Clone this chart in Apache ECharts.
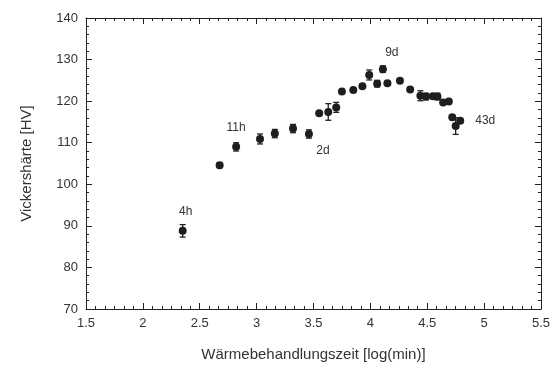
<!DOCTYPE html>
<html>
<head>
<meta charset="utf-8">
<script src="https://cdn.jsdelivr.net/npm/echarts@6/dist/echarts.min.js"></script>
<style>
  html, body { margin: 0; padding: 0; background: #fff; }
  #chart { width: 553px; height: 379px; }
</style>
</head>
<body>
<div id="chart"></div>
<script>
// Heat-treatment time (log10 of minutes) and the measured Vickers hardness
const logTime = [2.35, 2.675, 2.82, 3.03, 3.16, 3.32, 3.46, 3.55, 3.63, 3.70,
                 3.75, 3.85, 3.93, 3.99, 4.06, 4.11, 4.15, 4.26, 4.35, 4.44,
                 4.49, 4.55, 4.59, 4.64, 4.69, 4.72, 4.75, 4.79];
const hardness = [88.8, 104.6, 109.0, 110.9, 112.2, 113.4, 112.1, 117.1, 117.4, 118.5,
                  122.3, 122.7, 123.6, 126.3, 124.2, 127.7, 124.3, 124.9, 122.8, 121.3,
                  121.1, 121.2, 121.1, 119.7, 119.9, 116.1, 114.0, 115.3];
const hardnessErr = [1.5, 0.6, 1.0, 1.2, 1.0, 1.0, 1.0, 0.3, 2.0, 1.2,
                     0.3, 0.3, 0.3, 1.2, 0.8, 0.8, 0.3, 0.3, 0.3, 1.2,
                     0.8, 0.5, 0.8, 0.5, 0.5, 0.5, 2.0, 0.5];

// Ageing-time annotations: [point index, text]
const timeLabels = [[0, '4h'], [2, '11h'], [6, '2d'], [15, '9d'], [27, '43d']];

// Axis ranges
const xRange = [1.5, 5.5], xStep = 0.5;
const yRange = [70, 140], yStep = 10;

const ink = '#222';
const font = 'Liberation Sans, Arial, sans-serif';

const labelStyles = {
  '4h':  { position: 'top', offset: [3, -4] },
  '11h': { position: 'top', offset: [0, -4] },
  '2d':  { position: 'bottom', offset: [14, 2] },
  '9d':  { position: 'top', offset: [9, -1] },
  '43d': { position: 'right', offset: [6, 0] }
};

const points = logTime.map((x, i) => {
  const item = { value: [x, hardness[i]] };
  const lab = timeLabels.find(l => l[0] === i);
  if (lab) {
    const st = labelStyles[lab[1]];
    item.label = {
      show: true, formatter: lab[1], position: st.position, offset: st.offset,
      color: '#333', fontSize: 12, fontFamily: font
    };
  }
  return item;
});

const errData = logTime.map((x, i) => [x, hardness[i] - hardnessErr[i], hardness[i] + hardnessErr[i]]);

function tickAxis(showLabels, minorSplit) {
  return {
    axisLine: { show: true, onZero: false, lineStyle: { color: ink, width: 1 } },
    axisTick: { show: true, inside: true, length: 6, lineStyle: { color: ink } },
    minorTick: { show: true, splitNumber: minorSplit, length: 3, lineStyle: { color: ink } },
    splitLine: { show: true, lineStyle: { color: 'rgba(0,0,0,0)' } },
    axisLabel: { show: showLabels, color: '#333', fontSize: 13, fontFamily: font }
  };
}

const chart = echarts.init(document.getElementById('chart'), null, { renderer: 'canvas' });
chart.setOption({
  animation: false,
  backgroundColor: '#fff',
  grid: { left: 86, right: 11, top: 18, bottom: 70 },
  xAxis: [
    Object.assign(tickAxis(true, 6), {
      type: 'value', min: xRange[0], max: xRange[1], interval: xStep, position: 'bottom',
      name: 'Wärmebehandlungszeit [log(min)]', nameLocation: 'middle', nameGap: 38,
      nameTextStyle: { color: '#333', fontSize: 15, fontFamily: font }
    }),
    Object.assign(tickAxis(false, 6), {
      type: 'value', min: xRange[0], max: xRange[1], interval: xStep, position: 'top'
    })
  ],
  yAxis: [
    Object.assign(tickAxis(true, 5), {
      type: 'value', min: yRange[0], max: yRange[1], interval: yStep, position: 'left',
      name: 'Vickershärte [HV]', nameLocation: 'middle', nameGap: 52,
      nameTextStyle: { color: '#333', fontSize: 15, fontFamily: font }
    }),
    Object.assign(tickAxis(false, 5), {
      type: 'value', min: yRange[0], max: yRange[1], interval: yStep, position: 'right'
    })
  ],
  series: [
    {
      type: 'custom',
      xAxisIndex: 0, yAxisIndex: 0,
      data: errData,
      encode: { x: 0, y: [1, 2] },
      renderItem: function (params, api) {
        const x = api.value(0);
        const lo = api.coord([x, api.value(1)]);
        const hi = api.coord([x, api.value(2)]);
        const cap = 3;
        const style = { stroke: ink, lineWidth: 1.3 };
        return {
          type: 'group',
          children: [
            { type: 'line', shape: { x1: lo[0], y1: lo[1], x2: hi[0], y2: hi[1] }, style: style },
            { type: 'line', shape: { x1: lo[0] - cap, y1: lo[1], x2: lo[0] + cap, y2: lo[1] }, style: style },
            { type: 'line', shape: { x1: hi[0] - cap, y1: hi[1], x2: hi[0] + cap, y2: hi[1] }, style: style }
          ]
        };
      },
      z: 2
    },
    {
      type: 'scatter',
      xAxisIndex: 0, yAxisIndex: 0,
      data: points,
      symbol: 'circle',
      symbolSize: 8,
      itemStyle: { color: '#1e1e1e', opacity: 1 },
      z: 3
    }
  ]
});
</script>
</body>
</html>
